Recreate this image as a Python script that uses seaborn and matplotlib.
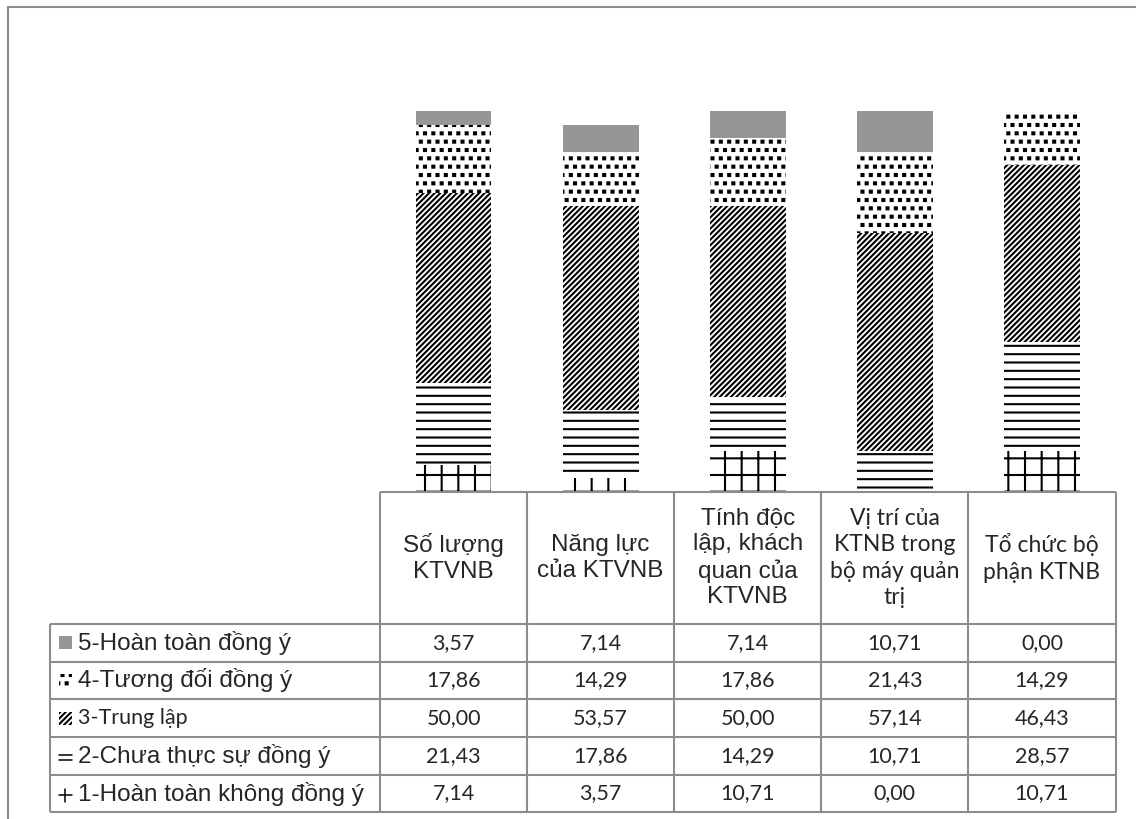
import numpy as np
import matplotlib
matplotlib.use("Agg")
import matplotlib.pyplot as plt
import matplotlib.hatch as mhatch
from matplotlib.path import Path
from matplotlib.patches import Rectangle
from matplotlib.lines import Line2D
import pandas as pd
import seaborn as sns

# ---- data -------------------------------------------------------------
categories = [
    "Số lượng\nKTVNB",
    "Năng lực\ncủa KTVNB",
    "Tính độc\nlập, khách\nquan của\nKTVNB",
    "Vị trí của\nKTNB trong\nbộ máy quản\ntrị",
    "Tổ chức bộ\nphận KTNB",
]
series_names = [
    "5-Hoàn toàn đồng ý",
    "4-Tương đối đồng ý",
    "3-Trung lập",
    "2-Chưa thực sự đồng ý",
    "1-Hoàn toàn không đồng ý",
]
v5 = [3.57, 7.14, 7.14, 10.71, 0.00]
v4 = [17.86, 14.29, 17.86, 21.43, 14.29]
v3 = [50.00, 53.57, 50.00, 57.14, 46.43]
v2 = [21.43, 17.86, 14.29, 10.71, 28.57]
v1 = [7.14, 3.57, 10.71, 0.00, 10.71]


# ---- square "confetti" dots for the '.' hatch ----------------------------
class SquareDots(mhatch.Shapes):
    size = 0.12
    filled = True

    def __init__(self, hatch, density):
        self.num_rows = hatch.count(".") * density
        self.shape_vertices = np.array(
            [[-1, -1], [1, -1], [1, 1], [-1, 1], [-1, -1]], dtype=float)
        self.shape_codes = np.array(
            [Path.MOVETO, Path.LINETO, Path.LINETO, Path.LINETO, Path.CLOSEPOLY],
            dtype=Path.code_type)
        super().__init__(hatch, density)


mhatch._hatch_types[:] = [SquareDots if t is mhatch.SmallFilledCircles else t
                          for t in mhatch._hatch_types]

# ---- styling ----------------------------------------------------------
sns.set_style("white")
plt.rcParams["hatch.linewidth"] = 1.5
plt.rcParams["font.family"] = ["Liberation Sans", "DejaVu Sans"]

GRAY = "#969696"
LINE = "#8c8c8c"
# (facecolor, hatch) for series 5 .. 1
styles = [(GRAY, None), ("white", ".."), ("white", "//////"), ("white", "--"), ("white", "+")]
arial = ["Liberation Sans", "DejaVu Sans"]
calibri = ["Lato", "DejaVu Sans"]
header_fonts = [arial, arial, arial, calibri, calibri]
label_fonts = [arial, arial, calibri, arial, arial]
ARIAL_SIZE = 17.5
CALIBRI_SIZE = 15.5

W, H = 1136, 819
fig = plt.figure(figsize=(W / 100, H / 100), dpi=100)


def fx(px):
    return px / W


def fy(py):
    return 1 - py / H


# outer chart frame (left and top edges)
fig.add_artist(Line2D([fx(7.5), fx(7.5)], [0, fy(7)], color=LINE, lw=1.5))
fig.add_artist(Line2D([fx(7.5), 1], [fy(7), fy(7)], color=LINE, lw=1.5))

# ---- stacked bars -----------------------------------------------------
ax = fig.add_axes([fx(380), fy(492), fx(1115.5) - fx(380), fy(8) - fy(492)])
layers = [v1, v2, v3, v4, v5]  # bottom -> top
df = pd.DataFrame({"category": categories})
for k in range(5, 0, -1):
    # cumulative height of layers 1..k, drawn from the top layer down
    df["cum"] = [sum(layer[i] for layer in layers[:k]) for i in range(len(categories))]
    face, hatch = styles[5 - k]
    kws = dict(edgecolor="black", linewidth=0) if hatch else dict(edgecolor="none", linewidth=0)
    sns.barplot(data=df, x="category", y="cum", order=categories, color=face,
                saturation=1, width=0.515, hatch=hatch, errorbar=None, ax=ax, **kws)
ax.set_xlim(-0.5, len(categories) - 0.5)
ax.set_ylim(0, 127)
ax.axis("off")

# ---- data table ---------------------------------------------------------
tab = fig.add_axes([fx(50), fy(812.4), fx(1115.5) - fx(50), fy(492) - fy(812.4)])
label_w = 330 / 147.1
header_h = 3.5
n_cols = len(categories)
n_rows = len(series_names)
tab.set_xlim(-label_w, n_cols)
tab.set_ylim(header_h + n_rows, 0)
tab.axis("off")

lkw = dict(color=LINE, lw=1.5, clip_on=False)
tab.hlines(0, 0, n_cols, **lkw)
for r in range(n_rows + 1):
    tab.hlines(header_h + r, -label_w, n_cols, **lkw)
for c in range(n_cols + 1):
    tab.vlines(c, 0, header_h + n_rows, **lkw)
tab.vlines(-label_w, header_h, header_h + n_rows, **lkw)

for c, (cat, fam) in enumerate(zip(categories, header_fonts)):
    tab.text(c + 0.5, header_h / 2, cat, ha="center", va="center",
             family=fam, size=ARIAL_SIZE if fam is arial else 16.5,
             linespacing=1.2 if fam is arial else 1.3)

# legend keys in the row-label column
kx0, kw_, kh = -2.185, 0.09, 0.345
values = [v5, v4, v3, v2, v1]
for r, (name, vals, (face, hatch), fam) in enumerate(zip(series_names, values, styles, label_fonts)):
    yc = header_h + r + 0.5
    if hatch is None:
        tab.add_patch(Rectangle((kx0, yc - kh / 2), kw_, kh, facecolor=face, edgecolor="none"))
    elif hatch == "--":
        for dy in (-0.07, 0.07):
            tab.plot([kx0, kx0 + kw_], [yc + dy + 0.04] * 2, color="black", lw=1.1)
    elif hatch == "+":
        tab.plot([kx0, kx0 + kw_], [yc + 0.04] * 2, color="black", lw=1.1)
        tab.plot([kx0 + kw_ / 2] * 2, [yc + 0.04 - kh / 2, yc + 0.04 + kh / 2], color="black", lw=1.1)
    else:
        tab.add_patch(Rectangle((kx0, yc - kh / 2), kw_, kh, facecolor=face, hatch=hatch,
                                edgecolor="black", linewidth=0))
    tab.text(-2.053, yc, name, ha="left", va="center", family=fam,
             size=ARIAL_SIZE if fam is arial else CALIBRI_SIZE)
    for c, v in enumerate(vals):
        tab.text(c + 0.5, yc, f"{v:.2f}".replace(".", ","), ha="center", va="center",
                 family=calibri, size=CALIBRI_SIZE)

fig.savefig("out.png", dpi=100, facecolor="white")
